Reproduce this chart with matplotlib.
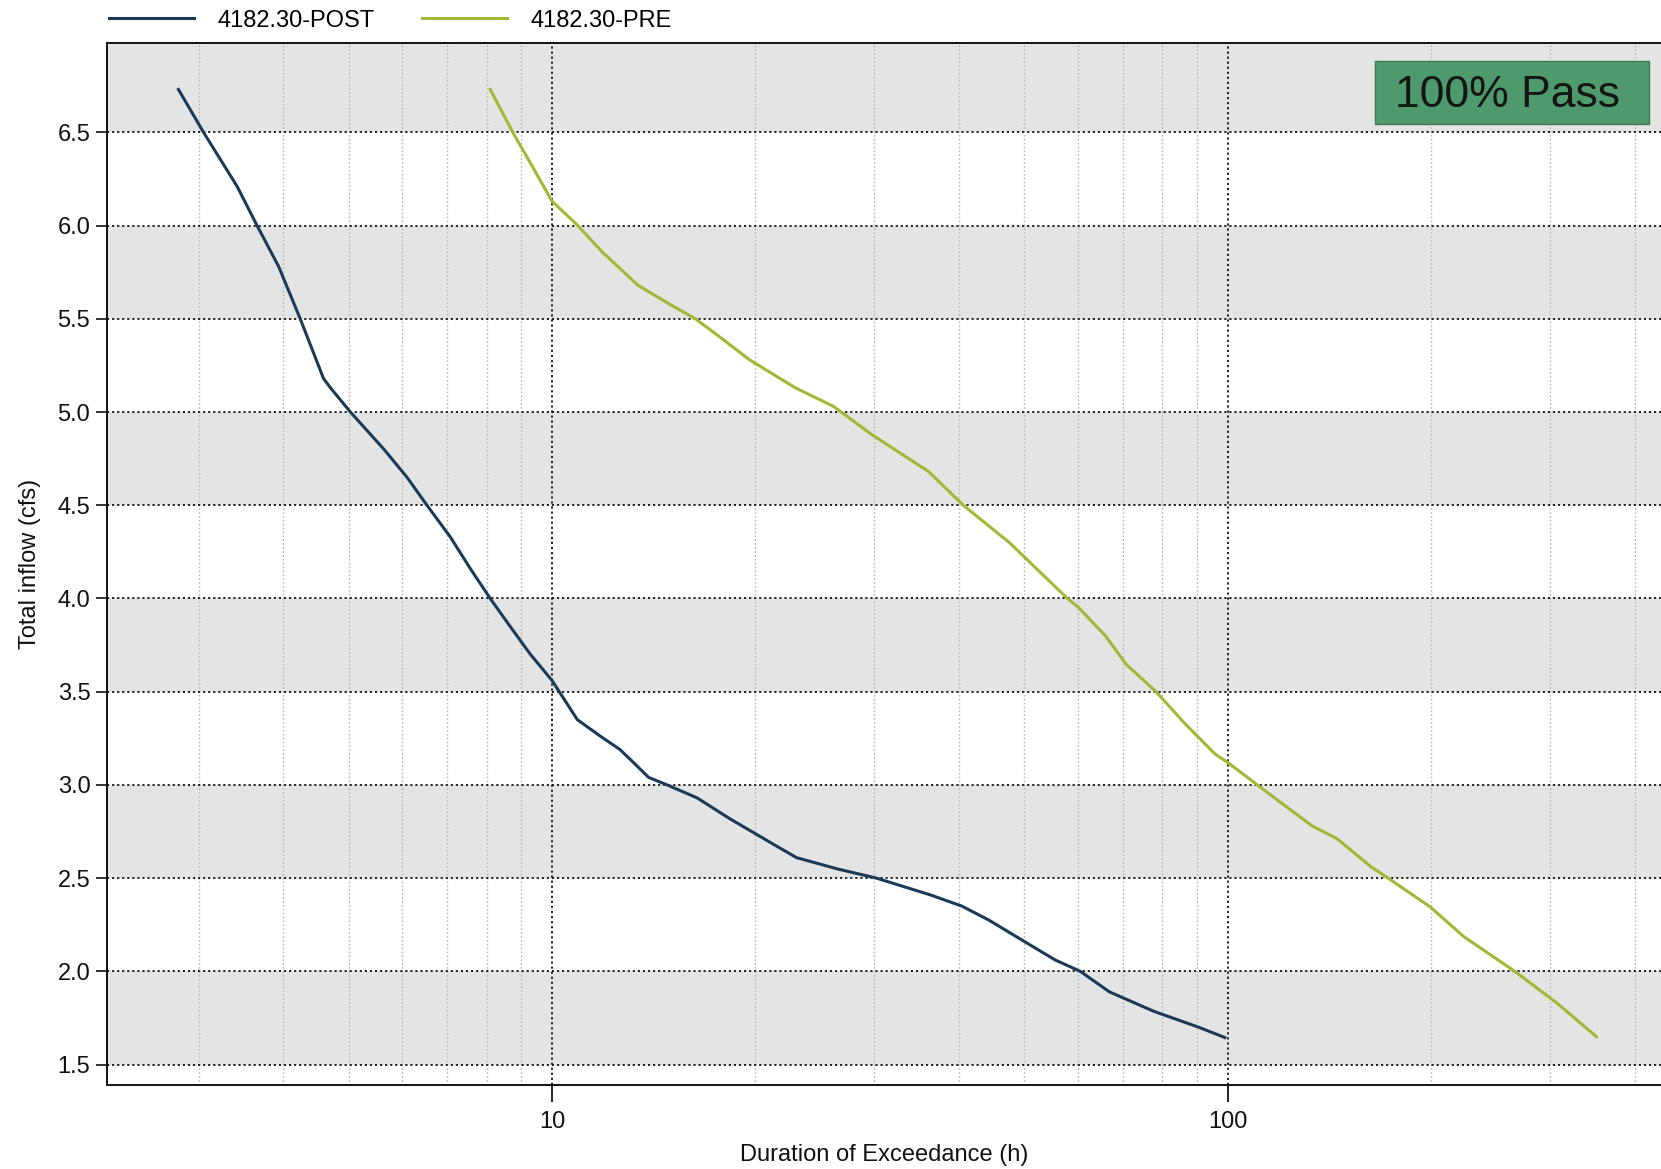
import matplotlib
matplotlib.use("Agg")
import matplotlib.pyplot as plt
import numpy as np
from matplotlib.ticker import FixedLocator, NullFormatter, LogLocator
from matplotlib.patches import Rectangle

plt.rcParams['font.family'] = ['Liberation Sans', 'DejaVu Sans']

# ---- data ----
post_x = [2.80, 3.05, 3.42, 3.66, 3.94, 4.24, 4.59, 4.70, 5.03, 5.64, 6.10, 6.53,
          7.07, 7.57, 8.10, 8.63, 9.29, 10.0, 10.9, 11.75, 12.6, 13.2, 13.9, 14.8,
          16.4, 18.3, 21.3, 23.0, 26.4, 30.2, 36.3, 40.4, 44.3, 50.0, 55.6, 60.5,
          66.8, 77.8, 90.6, 99.0]
post_y = [6.73, 6.50, 6.21, 6.00, 5.78, 5.50, 5.18, 5.13, 5.00, 4.80, 4.65, 4.50,
          4.33, 4.16, 4.00, 3.86, 3.70, 3.56, 3.35, 3.265, 3.19, 3.12, 3.04, 3.00,
          2.93, 2.82, 2.68, 2.61, 2.55, 2.50, 2.41, 2.35, 2.275, 2.16, 2.06, 2.00,
          1.89, 1.785, 1.70, 1.645]

pre_x = [8.10, 8.78, 9.41, 10.0, 10.85, 11.85, 13.4, 14.9, 16.3, 17.6, 19.6, 22.9,
         26.1, 29.7, 36.1, 40.6, 47.5, 57.9, 60.0, 65.9, 70.8, 78.3, 86.6, 95.8,
         100.0, 110.6, 118.8, 133.3, 145.3, 163.0, 172.7, 199.4, 223.7, 265.9,
         306.9, 351.0]
pre_y = [6.73, 6.49, 6.30, 6.13, 6.01, 5.86, 5.68, 5.58, 5.50, 5.41, 5.28, 5.13,
         5.03, 4.88, 4.68, 4.50, 4.30, 4.00, 3.955, 3.80, 3.645, 3.50, 3.325, 3.165,
         3.12, 3.00, 2.915, 2.78, 2.71, 2.56, 2.50, 2.345, 2.185, 2.00,
         1.83, 1.65]

series_names = ["4182.30-POST", "4182.30-PRE"]
y_ticks = [1.5, 2.0, 2.5, 3.0, 3.5, 4.0, 4.5, 5.0, 5.5, 6.0, 6.5]
x_major = [10, 100]
x_major_labels = ["10", "100"]
badge_text = "100% Pass"
x_label = "Duration of Exceedance (h)"
y_label = "Total inflow (cfs)"

# ---- figure ----
W, H = 1661, 1169
fig = plt.figure(figsize=(W / 100, H / 100), dpi=100)
left, right, top, bottom = 107, 1661, 43.4, 1084.7
ax = fig.add_axes([left / W, 1 - bottom / H, (right - left) / W, (bottom - top) / H])

ax.set_xscale('log')
ax.set_xlim(2.195, 437.6)
ax.set_ylim(1.392, 6.977)

# alternating bands
band_color = '#e4e4e4'
edges = y_ticks + [6.977]
for i in range(len(edges) - 1):
    if i % 2 == 0:
        ax.axhspan(edges[i], edges[i + 1], color=band_color, zorder=0, lw=0)

# grids
ax.set_axisbelow(True)
ax.xaxis.set_major_locator(FixedLocator(x_major))
ax.set_xticklabels(x_major_labels)
ax.xaxis.set_minor_locator(LogLocator(base=10, subs=np.arange(2, 10)))
ax.xaxis.set_minor_formatter(NullFormatter())
ax.set_yticks(y_ticks)
ax.set_yticklabels([f"{v:.1f}" for v in y_ticks])

ax.grid(True, which='major', axis='both', color='#111111', linestyle=(0, (1.2, 1.6)),
        linewidth=1.3, zorder=1)
ax.grid(True, which='minor', axis='x', color='#b8b8b8', linestyle=(0, (1.2, 1.6)),
        linewidth=1.0, zorder=1)

# curves
c_post = '#1c3a56'
c_pre = '#a3b836'
ax.plot(post_x, post_y, color=c_post, lw=2.2, zorder=3, label=series_names[0])
ax.plot(pre_x, pre_y, color=c_pre, lw=2.2, zorder=3, label=series_names[1])

# spines / ticks
for s in ['left', 'bottom', 'top']:
    ax.spines[s].set_color('#111111')
    ax.spines[s].set_linewidth(1.4)
ax.spines['right'].set_visible(False)
ax.tick_params(axis='y', which='major', length=8, width=1.2, pad=4,
               labelsize=17, colors='#111111', direction='out')
ax.tick_params(axis='x', which='major', length=12, width=1.3, pad=7,
               labelsize=17, colors='#111111', direction='out')
ax.tick_params(axis='x', which='minor', length=0)

ax.set_xlabel(x_label, fontsize=17, color='#111111', labelpad=8)
ax.set_ylabel(y_label, fontsize=17, color='#111111', labelpad=12)

# badge
bx0 = (1375 - left) / (right - left)
bw = 274 / (right - left)
by0 = (bottom - 124) / (bottom - top)
bh = 63 / (bottom - top)
ax.add_patch(Rectangle((bx0, by0), bw, bh, transform=ax.transAxes, facecolor='#4f9a6c',
                       edgecolor='#3d7a55', lw=1.0, zorder=5, clip_on=False))
ax.text(bx0 + bw / 2 - 0.003, by0 + bh / 2 - 0.003, badge_text, transform=ax.transAxes,
        ha='center', va='center', fontsize=32, color='#151515', zorder=6)

# legend
fig.legend(loc='upper left', bbox_to_anchor=(104 / W, 1 - 5 / H), ncol=2, frameon=False,
           fontsize=17, handlelength=3.6, handletextpad=1.0, columnspacing=2.0,
           borderaxespad=0, borderpad=0.2)

fig.savefig('out.png', dpi=100, facecolor='white')
